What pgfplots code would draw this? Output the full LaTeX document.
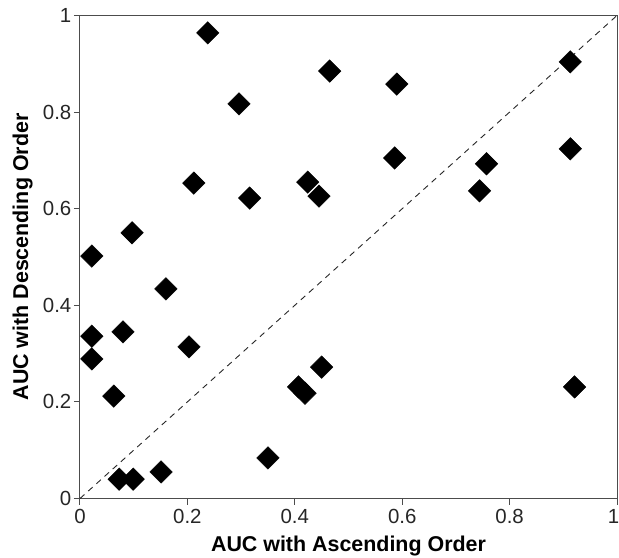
\documentclass[border=0pt]{standalone}
\usepackage{fontspec}
\setmainfont{Liberation Sans}
\usepackage{pgfplots}
\pgfplotsset{compat=1.18}
\begin{document}
\begin{tikzpicture}
\begin{axis}[
  scale only axis,
  width=537bp, height=483bp,
  xmin=0, xmax=1, ymin=0, ymax=1,
  xtick={0,0.2,0.4,0.6,0.8,1},
  xticklabels={0,0.2,0.4,0.6,0.8,\hspace*{-7bp}1},
  ytick={0,0.2,0.4,0.6,0.8,1},
  xtick pos=left, ytick pos=left,
  tick align=outside,
  major tick length=6bp,
  axis line style={black!70, line width=1bp},
  tick style={black!70, line width=1bp},
  /pgf/number format/assume math mode=true,
  ticklabel style={font=\fontsize{20.5}{24}\selectfont, text=black!85},
  xticklabel style={inner sep=1bp, yshift=-4bp},
  yticklabel style={inner sep=1bp, xshift=-1.5bp},
  xlabel={AUC with Ascending Order},
  ylabel={AUC with Descending Order},
  label style={font=\fontsize{21.5}{25}\selectfont\bfseries, text=black},
  xlabel style={at={(axis description cs:0.5,-0.1097)}, anchor=base},
  ylabel style={at={(axis description cs:-0.0968,0.5)}, anchor=base},
  clip=false,
]
\coordinate (SW) at (rel axis cs:0,0);
\addplot[black!85, line width=0.9bp, dash pattern=on 6bp off 5bp] coordinates {(0,0) (1,1)};
\addplot[only marks, mark=square*, mark size=8pt, mark options={rotate=45, fill=black, draw=black}] coordinates {
(0.238,0.964)
(0.296,0.817)
(0.465,0.885)
(0.590,0.858)
(0.913,0.904)
(0.212,0.653)
(0.316,0.622)
(0.424,0.655)
(0.445,0.626)
(0.586,0.705)
(0.913,0.724)
(0.757,0.693)
(0.744,0.637)
(0.097,0.550)
(0.022,0.502)
(0.160,0.434)
(0.022,0.336)
(0.080,0.345)
(0.203,0.314)
(0.022,0.289)
(0.063,0.212)
(0.407,0.231)
(0.419,0.218)
(0.450,0.272)
(0.921,0.231)
(0.350,0.084)
(0.151,0.055)
(0.073,0.040)
(0.099,0.040)
};
\end{axis}
\pgfresetboundingbox
\path (SW) ++(-80bp,-59.5bp) rectangle ++(619bp,558bp);
\end{tikzpicture}
\end{document}
